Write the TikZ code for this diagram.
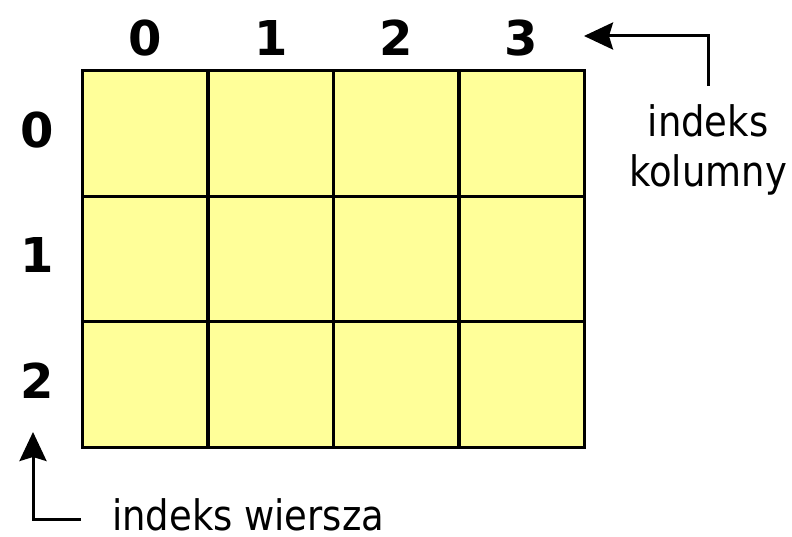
\documentclass[tikz,border=0pt]{standalone}
\usepackage{fontspec}
\setmainfont{DejaVu Sans}[FakeStretch=0.88]
\newfontfamily\digitfont{DejaVu Sans Bold}
\usetikzlibrary{arrows.meta}
\definecolor{cellyellow}{HTML}{FFFF99}
\tikzset{
  cell/.style={fill=cellyellow, minimum width=125.25bp, minimum height=125.33bp, inner sep=0pt},
  cellborder/.style={draw=black, line width=3.2bp},
  digit/.style={font=\digitfont\fontsize{48bp}{55bp}\selectfont, inner sep=0pt},
  lbl/.style={font=\fontsize{42bp}{50bp}\selectfont, inner sep=0pt},
  arr/.style={line width=3bp, -{Stealth[length=29bp, width=27bp, inset=4bp]}}
}
\begin{document}
\begin{tikzpicture}[x=1bp, y=-1bp]
\useasboundingbox (0,0) rectangle (792,537);
\foreach \r in {0,1,2} {
  \foreach \c in {0,1,2,3} {
    \node[cell] (c\r\c) at ({83+125.25*(\c+0.5)}, {71+125.33*(\r+0.5)}) {};
  }
}
\foreach \r in {0,1,2} {
  \foreach \c in {0,1,2,3} {
    \draw[cellborder] (c\r\c.north west) rectangle (c\r\c.south east);
  }
}
\foreach \c in {0,1,2,3} {
  \node[digit] (col\c) at ({83+125.25*(\c+0.5)}, 38) {\c};
}
\foreach \r in {0,1,2} {
  \node[digit] (row\r) at (37, {71+125.33*(\r+0.5)-4}) {\r};
}
\node[lbl, anchor=base] (kol1) at (708,137) {indeks};
\node[lbl, anchor=base] (kol2) at (708,187) {kolumny};
\node[lbl, anchor=base west] (wier) at (112,530) {indeks wiersza};
\coordinate (ca) at (708,86);
\coordinate (ctip) at (584,36);
\coordinate (ra) at (81,519);
\coordinate (rtip) at (33,432);
\draw[arr] (ca) |- (ctip);
\draw[arr] (ra) -| (rtip);
\end{tikzpicture}
\end{document}
